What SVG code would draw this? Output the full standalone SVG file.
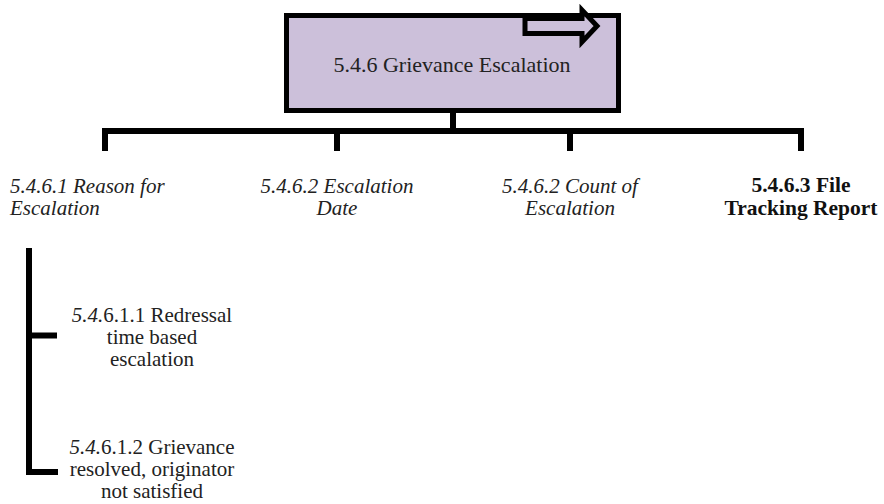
<svg xmlns="http://www.w3.org/2000/svg" width="884" height="504" viewBox="0 0 884 504">
<defs>
<style>
.t{font-family:"Liberation Serif","Times New Roman",serif;font-size:21px;fill:#222;}
.c{text-anchor:middle;}
.i{font-style:italic;}
.b{font-weight:bold;fill:#111;font-size:21.5px;}
.ln{fill:none;stroke:#000;stroke-width:6;stroke-linejoin:miter;}
</style>
</defs>
<rect width="884" height="504" fill="#fff"/>
<g id="connectors">
<path class="ln" d="M453,113 V131"/>
<path class="ln" d="M105,151 V131 H801 V151"/>
<path class="ln" d="M337,131 V151"/>
<path class="ln" d="M570,131 V151"/>
<path class="ln" d="M29,248 V472 H58"/>
<path class="ln" d="M29,335.5 H57"/>
</g>
<g id="root">
<rect x="286.5" y="15.5" width="332" height="95" fill="#CCC0DA" stroke="#000" stroke-width="5"/>
<path d="M525,18.5 H582 V10 L597,26 L582,42 V33.5 H525 Z" fill="#CCC0DA" stroke="#000" stroke-width="5" stroke-linejoin="miter"/>
<text class="t c" x="452" y="72" style="font-size:22px">5.4.6 Grievance Escalation</text>
</g>
<g id="n1">
<text class="t i" x="10" y="193">5.4.6.1 Reason for<tspan x="10" y="215">Escalation</tspan></text>
</g>
<g id="n2">
<text class="t i c" x="337" y="193">5.4.6.2 Escalation<tspan x="337" y="215">Date</tspan></text>
</g>
<g id="n3">
<text class="t i c" x="570" y="193">5.4.6.2 Count of<tspan x="570" y="215">Escalation</tspan></text>
</g>
<g id="n4">
<text class="t b c" x="801" y="192">5.4.6.3 File<tspan x="801" y="215">Tracking Report</tspan></text>
</g>
<g id="n11">
<text class="t c" x="152" y="322"><tspan font-style="italic">5.4.</tspan>6.1.1 Redressal<tspan x="152" y="344">time based</tspan><tspan x="152" y="366">escalation</tspan></text>
</g>
<g id="n12">
<text class="t c" x="152" y="454"><tspan font-style="italic">5.4.</tspan>6.1.2 Grievance<tspan x="152" y="476">resolved, originator</tspan><tspan x="152" y="498">not satisfied</tspan></text>
</g>
</svg>
